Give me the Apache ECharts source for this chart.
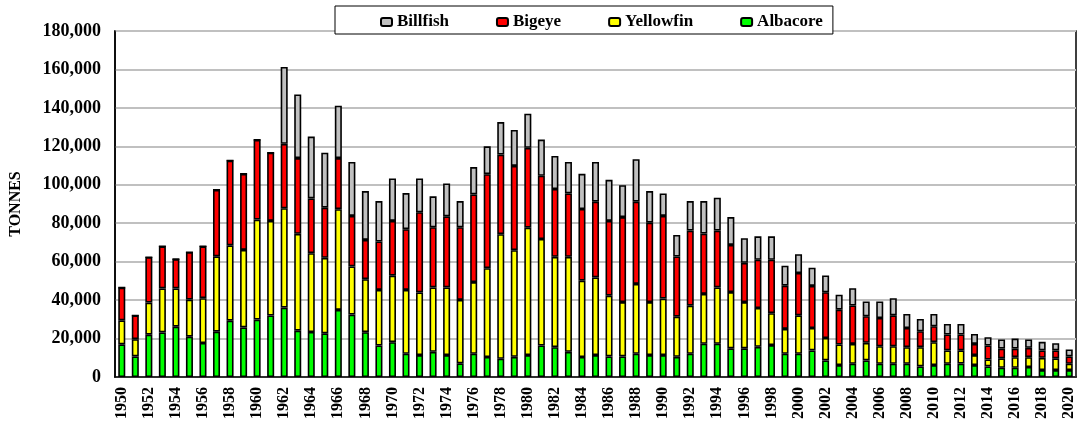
<!DOCTYPE html>
<html>
<head>
<meta charset="utf-8">
<script src="https://cdn.jsdelivr.net/npm/echarts@6/dist/echarts.min.js"></script>
<style>
  html, body { margin: 0; padding: 0; background: #fff; }
  #chart { width: 1081px; height: 430px; }
</style>
</head>
<body>
<div id="chart"></div>
<script>
const years = ['1950','1951','1952','1953','1954','1955','1956','1957','1958','1959',
  '1960','1961','1962','1963','1964','1965','1966','1967','1968','1969',
  '1970','1971','1972','1973','1974','1975','1976','1977','1978','1979',
  '1980','1981','1982','1983','1984','1985','1986','1987','1988','1989',
  '1990','1991','1992','1993','1994','1995','1996','1997','1998','1999',
  '2000','2001','2002','2003','2004','2005','2006','2007','2008','2009',
  '2010','2011','2012','2013','2014','2015','2016','2017','2018','2019','2020'];

// tonnes
const albacore = [17000,10700,22000,23200,26200,21000,17700,23600,29300,25800,
  29900,32000,36100,24100,23400,22700,34900,32500,23300,16400,
  18100,12100,11400,13100,11400,7100,12100,10400,9500,10500,
  11400,16400,15500,13100,10400,11400,10700,10700,12100,11400,
  11400,10500,12100,17300,17300,14900,14900,15700,16600,12100,
  12100,13800,8600,6200,6900,8600,6900,6900,6900,5500,
  6200,6900,7000,6200,5500,4800,4800,5200,3600,3600,3600];

const yellowfin = [12500,9000,16700,22900,19900,19300,23300,39200,39200,40300,
  52000,49200,51700,50400,41000,39300,52400,25000,27600,28900,
  34600,33200,32600,33500,35200,33000,37300,46200,64800,55500,
  66300,55400,47000,49400,39700,40400,31600,28300,36300,27600,
  29400,20900,25000,25900,29300,29300,24100,20200,16600,12900,
  20000,11700,11700,10700,10300,9200,9100,9100,8600,10000,
  11900,6900,6900,5200,3600,4900,5500,5100,6400,6100,3300];

const bigeye = [17000,12300,23600,21900,15200,24600,27000,34600,44100,39600,
  41500,35500,33500,39400,28500,26100,26600,26300,20400,25200,
  28500,31600,41700,31300,37000,37800,45600,48900,41400,43800,
  41500,32900,35300,33000,37300,39400,38900,44200,42800,41300,
  43000,31300,39100,31400,29600,24500,20400,25100,27800,22500,
  22000,21900,23800,18100,20000,13800,14700,16100,10000,8300,
  8300,8300,8200,5800,7300,5100,4500,4900,3800,4100,3800];

const billfish = [0,0,0,0,0,0,0,0,0,0,
  0,0,40000,33100,32200,28600,27200,28100,25400,21000,
  22100,18800,17600,16100,17100,13600,14200,14500,16900,18700,
  17800,18800,17200,16400,18300,20700,21400,16600,22100,16400,
  11700,11200,15300,16900,17100,14500,12800,12200,12200,10400,
  9800,9500,8700,7800,9000,7700,8600,8900,7300,6400,
  6400,5500,5500,5200,4300,4700,5200,4300,4500,3800,3600];

const seriesNames = ['Billfish', 'Bigeye', 'Yellowfin', 'Albacore'];
const yTicks = { min: 0, max: 180000, step: 20000 };

const serifFont = '"Liberation Serif", "Times New Roman", serif';

const makeSeries = (name, data, color) => ({
  name: name,
  type: 'bar',
  stack: 'total',
  data: data,
  barWidth: '52%',
  itemStyle: {
    color: color,
    borderColor: '#000',
    borderWidth: 1.6
  }
});

const chart = echarts.init(document.getElementById('chart'));

chart.setOption({
  animation: false,
  backgroundColor: '#fff',
  legend: {
    data: seriesNames,
    left: 335,
    top: 6,
    padding: [6, 10, 2, 45],
    itemGap: 47,
    itemWidth: 11,
    itemHeight: 8,
    backgroundColor: '#fff',
    borderColor: '#000',
    borderWidth: 1,
    z: 10,
    textStyle: {
      fontFamily: serifFont,
      fontWeight: 'bold',
      fontSize: 17,
      color: '#000',
      lineHeight: 20
    }
  },
  grid: {
    left: 112,
    right: 5,
    top: 31,
    bottom: 53,
    show: true,
    borderColor: '#000',
    borderWidth: 1.5,
    containLabel: false
  },
  xAxis: {
    type: 'category',
    data: years,
    axisLine: { lineStyle: { color: '#000', width: 1.5 } },
    axisTick: { show: false },
    axisLabel: {
      interval: 1,
      rotate: 90,
      margin: 10,
      color: '#000',
      fontFamily: serifFont,
      fontWeight: 'bold',
      fontSize: 16
    }
  },
  yAxis: {
    type: 'value',
    min: yTicks.min,
    max: yTicks.max,
    interval: yTicks.step,
    name: 'TONNES',
    nameLocation: 'middle',
    nameGap: 91,
    nameTextStyle: {
      color: '#000',
      fontFamily: serifFont,
      fontWeight: 'bold',
      fontSize: 16
    },
    axisLine: { show: true, lineStyle: { color: '#000', width: 1.5 } },
    axisTick: { show: false },
    splitLine: { lineStyle: { color: '#c0c0c0', width: 2 } },
    axisLabel: {
      margin: 14,
      color: '#000',
      fontFamily: serifFont,
      fontWeight: 'bold',
      fontSize: 18,
      formatter: v => v.toLocaleString('en-US')
    }
  },
  series: [
    makeSeries('Albacore', albacore, '#00ff00'),
    makeSeries('Yellowfin', yellowfin, '#ffff00'),
    makeSeries('Bigeye', bigeye, '#ff0000'),
    makeSeries('Billfish', billfish, '#c0c0c0')
  ]
});
</script>
</body>
</html>
